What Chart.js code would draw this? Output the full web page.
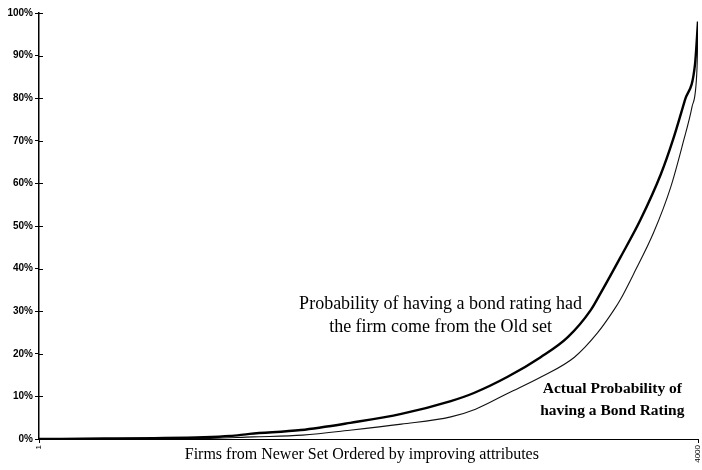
<!DOCTYPE html>
<html>
<head>
<meta charset="utf-8">
<script src="https://cdn.jsdelivr.net/npm/chart.js@4"></script>
<style>
  html, body { margin: 0; padding: 0; background: #fff; }
  #wrap { width: 702px; height: 470px; }
</style>
</head>
<body>
<div id="wrap"><canvas id="chart" width="702" height="470"></canvas></div>
<script>
// Firms ordered by improving attributes (1..4000), probability in %
const oldSetX = [1, 400, 700, 1000, 1160, 1280, 1590, 1890, 2200, 2500, 2640, 2845, 3045, 3210, 3350, 3410, 3530, 3650, 3775, 3848, 3921, 3982, 4000];
const oldSetY = [0, 0.1, 0.2, 0.4, 0.7, 1.2, 2.1, 3.8, 5.9, 8.9, 10.8, 14.6, 19.2, 23.9, 30.3, 34.3, 42.7, 51.4, 62.2, 70.2, 79.6, 88, 98];

const actualX = [1, 400, 700, 1000, 1300, 1600, 1900, 2200, 2500, 2650, 2850, 3050, 3250, 3390, 3490, 3530, 3610, 3730, 3835, 3909, 3964, 3994, 4000];
const actualY = [0, 0, 0.05, 0.1, 0.5, 0.9, 2.1, 3.5, 5.2, 7.0, 10.8, 14.6, 19.2, 24.9, 30.3, 32.8, 38.8, 48.4, 59.2, 69.5, 78, 87, 97.5];

const xTickValues = [1, 4000];
const xTitle = 'Firms from Newer Set Ordered by improving attributes';

const oldSetLabel = ['Probability of having a bond rating had', 'the firm come from the Old set'];
const actualLabel = ['Actual Probability of', 'having a Bond Rating'];

function toPoints(xs, ys) {
    return xs.map((x, i) => ({ x: x, y: ys[i] }));
}

// draws the captions, the axis title and the inner half of the y tick marks
const extras = {
    id: 'extras',
    afterDraw(chart) {
        const ctx = chart.ctx;
        const xs = chart.scales.x;
        const ys = chart.scales.y;
        ctx.save();

        ctx.strokeStyle = '#000';
        ctx.lineWidth = 1;
        ys.ticks.forEach(t => {
            const py = Math.round(ys.getPixelForValue(t.value)) + 0.5;
            ctx.beginPath();
            ctx.moveTo(xs.left, py);
            ctx.lineTo(xs.left + 4, py);
            ctx.stroke();
        });

        ctx.fillStyle = '#000';
        ctx.textAlign = 'center';
        ctx.textBaseline = 'middle';

        ctx.font = '18px "Liberation Serif", "Times New Roman", serif';
        oldSetLabel.forEach((line, i) => {
            ctx.fillText(line, xs.getPixelForValue(2438), ys.getPixelForValue(31.7) + i * 23);
        });

        ctx.font = 'bold 15.5px "Liberation Serif", "Times New Roman", serif';
        actualLabel.forEach((line, i) => {
            ctx.fillText(line, xs.getPixelForValue(3480), ys.getPixelForValue(11.7) + i * 22);
        });

        // x axis title sits a little left of the axis centre in the original
        ctx.font = '16px "Liberation Serif", "Times New Roman", serif';
        ctx.fillText(xTitle, xs.getPixelForValue(1960), xs.bottom - 15);
        ctx.restore();
    }
};

new Chart(document.getElementById('chart'), {
    type: 'line',
    data: {
        datasets: [{
            label: 'Old set',
            data: toPoints(oldSetX, oldSetY),
            borderColor: '#000',
            borderWidth: 2.4,
            pointRadius: 0,
            cubicInterpolationMode: 'monotone',
            fill: false
        }, {
            label: 'Actual',
            data: toPoints(actualX, actualY),
            borderColor: '#111',
            borderWidth: 1.1,
            pointRadius: 0,
            cubicInterpolationMode: 'monotone',
            fill: false
        }]
    },
    options: {
        responsive: false,
        animation: false,
        layout: { padding: { top: 13, right: 4, left: 0, bottom: 0 } },
        plugins: {
            legend: { display: false },
            tooltip: { enabled: false }
        },
        scales: {
            x: {
                type: 'linear',
                min: 1,
                max: 4000,
                afterBuildTicks: scale => {
                    scale.ticks = xTickValues.map(v => ({ value: v }));
                },
                afterFit: scale => {
                    scale.height = 31;
                    scale.paddingLeft = 0;
                    scale.paddingRight = 0;
                },
                grid: {
                    drawOnChartArea: false,
                    tickLength: 4,
                    color: '#000'
                },
                border: { color: '#000', width: 1 },
                ticks: {
                    autoSkip: false,
                    minRotation: 90,
                    maxRotation: 90,
                    padding: 2,
                    color: '#000',
                    font: { family: 'Liberation Sans, Arial, sans-serif', size: 8 },
                    callback: v => String(v)
                }
            },
            y: {
                min: 0,
                max: 100,
                afterFit: scale => { scale.width = 39; },
                grid: {
                    drawOnChartArea: false,
                    tickLength: 4,
                    color: '#000'
                },
                border: { color: '#000', width: 1.5 },
                ticks: {
                    stepSize: 10,
                    padding: 2,
                    color: '#000',
                    font: { family: 'Liberation Sans, Arial, sans-serif', size: 10, weight: 'bold' },
                    callback: v => v + '%'
                }
            }
        }
    },
    plugins: [extras]
});
</script>
</body>
</html>
